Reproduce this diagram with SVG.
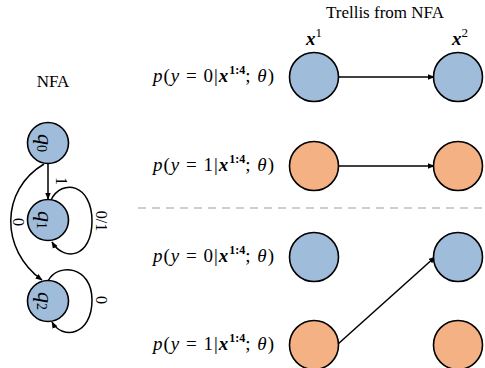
<svg xmlns="http://www.w3.org/2000/svg" width="485" height="368" viewBox="0 0 485 368">
<style>
text{font-family:'Liberation Serif','Times New Roman',serif;fill:#000}
.blue{fill:#9fbcdb;stroke:#000;stroke-width:1.6}
.orange{fill:#f4b183;stroke:#000;stroke-width:1.6}
.edge{fill:none;stroke:#000;stroke-width:1.5}
.lbl{font-size:17px}
.math{font-size:19px;letter-spacing:1px}
.it{font-style:italic}
.bi{font-style:italic;font-weight:bold}
.sup{font-size:12px;font-weight:bold;letter-spacing:0}
.el{font-size:16px}
</style>
<defs>
<marker id="ah" viewBox="0 0 10 10" refX="9" refY="5" markerWidth="7" markerHeight="7" markerUnits="userSpaceOnUse" orient="auto">
<path d="M0,1 L10,5 L0,9 Z" fill="#000"/>
</marker>
</defs>

<text class="lbl" font-family="Liberation Serif, serif" x="53" y="87" text-anchor="middle">NFA</text>
<text class="lbl" font-family="Liberation Serif, serif" x="385" y="18" text-anchor="middle">Trellis from NFA</text>
<text font-family="Liberation Serif, serif" font-size="19" x="306" y="45"><tspan class="bi">x</tspan><tspan font-size="13" dy="-8">1</tspan></text>
<text font-family="Liberation Serif, serif" font-size="19" x="452" y="45"><tspan class="bi">x</tspan><tspan font-size="13" dy="-8">2</tspan></text>

<g id="connectors">
<line class="edge" x1="48" y1="164" x2="48" y2="199" marker-end="url(#ah)"/>
<path class="edge" d="M44,164 C0,190 0,250 42,280" marker-end="url(#ah)"/>
<path class="edge" d="M51,200 C62,178 92,184 92,221 C92,258 64,262 52,242" marker-end="url(#ah)"/>
<path class="edge" d="M48,281 C58,262 92,266 92,300 C92,336 62,340 52,322" marker-end="url(#ah)"/>
<text class="el" font-family="Liberation Serif, serif" transform="translate(61,181) rotate(90)" text-anchor="middle" dominant-baseline="central">1</text>
<text class="el" font-family="Liberation Serif, serif" transform="translate(101,221) rotate(90)" text-anchor="middle" dominant-baseline="central">0/1</text>
<text class="el" font-family="Liberation Serif, serif" transform="translate(18,222) rotate(90)" text-anchor="middle" dominant-baseline="central">0</text>
<text class="el" font-family="Liberation Serif, serif" transform="translate(101,300) rotate(90)" text-anchor="middle" dominant-baseline="central">0</text>
<line class="edge" x1="339" y1="77" x2="434" y2="77" marker-end="url(#ah)"/>
<line class="edge" x1="339" y1="166" x2="434" y2="166" marker-end="url(#ah)"/>
<line class="edge" x1="338" y1="344" x2="435" y2="257" marker-end="url(#ah)"/>
<line x1="138" y1="208" x2="485" y2="208" stroke="#bfbfbf" stroke-width="1.5" stroke-dasharray="8,6"/>
</g>

<g id="q0"><circle class="blue" cx="48" cy="143" r="20.5"/>
<text font-family="Liberation Serif, serif" transform="translate(46,143) rotate(90)" font-size="22" text-anchor="middle" dominant-baseline="central"><tspan class="it">q</tspan><tspan font-size="14" dy="4">0</tspan></text></g>
<g id="q1"><circle class="blue" cx="48" cy="220" r="20.5"/>
<text font-family="Liberation Serif, serif" transform="translate(46,220) rotate(90)" font-size="22" text-anchor="middle" dominant-baseline="central"><tspan class="it">q</tspan><tspan font-size="14" dy="4">1</tspan></text></g>
<g id="q2"><circle class="blue" cx="48" cy="301" r="20.5"/>
<text font-family="Liberation Serif, serif" transform="translate(46,301) rotate(90)" font-size="22" text-anchor="middle" dominant-baseline="central"><tspan class="it">q</tspan><tspan font-size="14" dy="4">2</tspan></text></g>

<g id="label-r1"><text class="math" font-family="Liberation Serif, serif" x="153" y="82"><tspan class="it">p</tspan>(<tspan class="it">y</tspan> = 0|<tspan class="bi">x</tspan><tspan class="sup" dy="-8">1:4</tspan><tspan dy="8">; </tspan><tspan class="it">θ</tspan>)</text></g>
<g id="label-r2"><text class="math" font-family="Liberation Serif, serif" x="153" y="171"><tspan class="it">p</tspan>(<tspan class="it">y</tspan> = 1|<tspan class="bi">x</tspan><tspan class="sup" dy="-8">1:4</tspan><tspan dy="8">; </tspan><tspan class="it">θ</tspan>)</text></g>
<g id="label-r3"><text class="math" font-family="Liberation Serif, serif" x="153" y="262"><tspan class="it">p</tspan>(<tspan class="it">y</tspan> = 0|<tspan class="bi">x</tspan><tspan class="sup" dy="-8">1:4</tspan><tspan dy="8">; </tspan><tspan class="it">θ</tspan>)</text></g>
<g id="label-r4"><text class="math" font-family="Liberation Serif, serif" x="153" y="350"><tspan class="it">p</tspan>(<tspan class="it">y</tspan> = 1|<tspan class="bi">x</tspan><tspan class="sup" dy="-8">1:4</tspan><tspan dy="8">; </tspan><tspan class="it">θ</tspan>)</text></g>

<g id="t1-y0-a"><circle class="blue" cx="314" cy="77" r="24.5"/></g>
<g id="t1-y0-b"><circle class="blue" cx="458" cy="77" r="24.5"/></g>
<g id="t1-y1-a"><circle class="orange" cx="314" cy="166" r="24.5"/></g>
<g id="t1-y1-b"><circle class="orange" cx="458" cy="166" r="24.5"/></g>
<g id="t2-y0-a"><circle class="blue" cx="314" cy="257" r="24.5"/></g>
<g id="t2-y0-b"><circle class="blue" cx="458" cy="257" r="24.5"/></g>
<g id="t2-y1-a"><circle class="orange" cx="314" cy="345" r="24.5"/></g>
<g id="t2-y1-b"><circle class="orange" cx="458" cy="345" r="24.5"/></g>
</svg>
